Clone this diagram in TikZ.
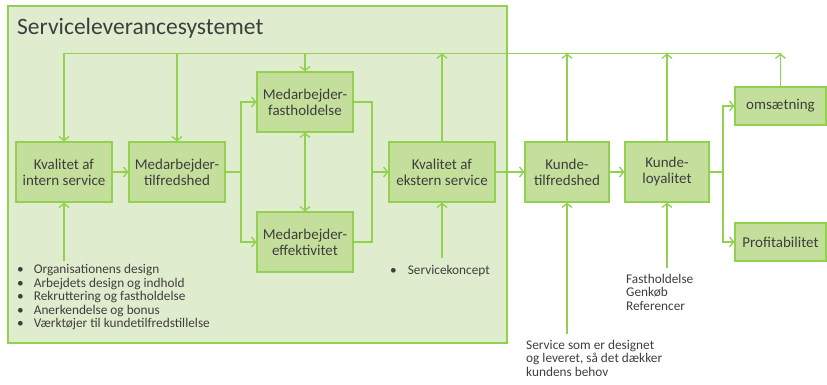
\documentclass[tikz,border=0pt]{standalone}
\usepackage{fontspec}
\setmainfont{Carlito}
\usetikzlibrary{arrows.meta}
\definecolor{lime}{RGB}{146,208,80}
\definecolor{panel}{RGB}{224,236,206}
\definecolor{boxfill}{RGB}{196,223,155}
\definecolor{ink}{RGB}{62,62,62}

\begin{document}
\begin{tikzpicture}[x=1pt,y=-1pt,
  link/.style={draw=lime, line width=1.3pt},
  flow/.style={link, -{Straight Barb[length=4pt,width=10pt]}},
  both/.style={link, {Straight Barb[length=4pt,width=10pt]}-{Straight Barb[length=4pt,width=10pt]}},
  stage/.style={draw=lime, line width=1.3pt, fill=boxfill, text=ink, align=center,
    font=\fontsize{15}{16}\selectfont, inner sep=0pt, minimum height=60pt},
  note/.style={text=ink, align=left, font=\fontsize{13.3}{13.5}\selectfont, inner sep=0pt}]

\useasboundingbox (0,0) rectangle (827,385);

% service delivery system panel
\draw[fill=panel, draw=lime, line width=1.3pt] (8,6) rectangle (507,343);
\node[anchor=west, text=ink, font=\fontsize{23.5}{26}\selectfont, inner sep=0pt] (title) at (17,28) {Serviceleverancesystemet};

% stages
\node[stage, minimum width=96pt] (KI) at (64,172) {Kvalitet af\\intern service};
\node[stage, minimum width=96pt] (MT) at (177,172) {Medarbejder-\\tilfredshed};
\node[stage, minimum width=96pt] (MF) at (305,102) {Medarbejder-\\fastholdelse};
\node[stage, minimum width=96pt] (ME) at (305,242) {Medarbejder-\\effektivitet};
\node[stage, minimum width=106pt] (KE) at (442,172) {Kvalitet af\\ekstern service};
\node[stage, minimum width=84pt] (KT) at (567,172) {Kunde-\\tilfredshed};
\node[stage, minimum width=84pt] (KL) at (667,172) {Kunde-\\loyalitet};
\node[stage, minimum width=91pt, minimum height=38pt] (OM) at (780.5,106) {omsætning};
\node[stage, minimum width=91pt, minimum height=38pt] (PR) at (780.5,242) {Profitabilitet};

% feedback line along the top
\coordinate (fb) at (0,53.5);
\draw[link] (KI |- fb) -- (OM |- fb);
\draw[flow] (KI |- fb) -- (KI.north);
\draw[flow] (MT |- fb) -- (MT.north);
\draw[flow] (MF |- fb) -- (MF.north);
\draw[flow] (KE.north) -- (KE |- fb);
\draw[flow] (KT.north) -- (KT |- fb);
\draw[flow] (KL.north) -- (KL |- fb);
\draw[flow] (OM.north) -- (OM |- fb);

% main chain
\draw[flow] (KI.east) -- (MT.west);
\coordinate (s1) at (241,172);
\draw[link] (MT.east) -- (s1);
\draw[flow] (s1) |- (MF.west);
\draw[flow] (s1) |- (ME.west);
\draw[both] (MF.south) -- (ME.north);
\coordinate (s2) at (372,172);
\draw[link] (MF.east) -| (s2);
\draw[link] (ME.east) -| (s2);
\draw[flow] (s2) -- (KE.west);
\draw[flow] (KE.east) -- (KT.west);
\draw[flow] (KT.east) -- (KL.west);
\coordinate (s3) at (723,172);
\draw[link] (KL.east) -- (s3);
\draw[flow] (s3) |- (OM.west);
\draw[flow] (s3) |- (PR.west);

% inputs from below
\node[note, anchor=north west] (drivers) at (17,264) {%
  \begin{tabular}{@{}l@{\hspace{10pt}}l@{}}
  • & Organisationens design\\
  • & Arbejdets design og indhold\\
  • & Rekruttering og fastholdelse\\
  • & Anerkendelse og bonus\\
  • & Værktøjer til kundetilfredstillelse
  \end{tabular}};
\node[note, anchor=west] (concept) at (390,271) {•\hspace{11pt}Servicekoncept};
\node[note, anchor=north west] (loyal) at (626,274) {Fastholdelse\\Genkøb\\Referencer};
\node[note, anchor=north west] (need) at (526,340) {Service som er designet\\og leveret, så det dækker\\kundens behov};

\coordinate (in1) at (64,261);
\coordinate (in2) at (442,258);
\coordinate (in3) at (567,334);
\coordinate (in4) at (667,268);
\draw[flow] (in1) -- (KI.south);
\draw[flow] (in2) -- (KE.south);
\draw[flow] (in3) -- (KT.south);
\draw[flow] (in4) -- (KL.south);
\end{tikzpicture}
\end{document}
